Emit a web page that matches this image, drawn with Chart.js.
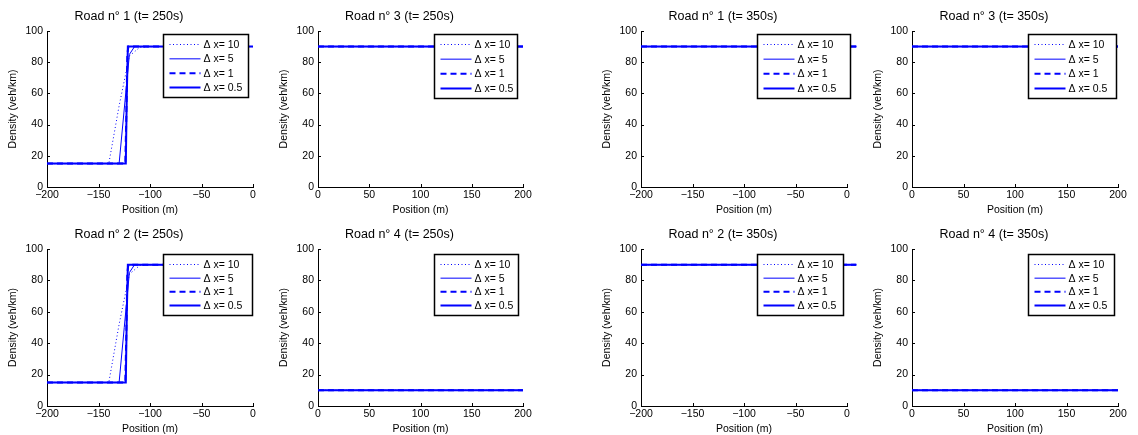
<!DOCTYPE html>
<html>
<head>
<meta charset="utf-8">
<script src="https://cdn.jsdelivr.net/npm/chart.js@4.4.1/dist/chart.umd.min.js"></script>
<style>
  body { margin: 0; background: #fff; }
  #wrap { position: relative; width: 1138px; height: 435px; overflow: hidden; }
  #wrap canvas { position: absolute; }
</style>
</head>
<body>
<div id="wrap"></div>
<script>
// Legend labels (one per mesh size)
const deltaLabels = ['Δ x= 10', 'Δ x= 5', 'Δ x= 1', 'Δ x= 0.5'];

// Road 1, t = 250s  (position m, density veh/km)
const road1T250Dx10 = [[-200, 15], [-140, 15], [-130, 52], [-120, 84], [-110, 89.5], [-100, 90], [0, 90]];
const road1T250Dx5 = [[-200, 15], [-130, 15], [-125, 50], [-120, 85], [-115, 90], [0, 90]];
const road1T250Dx1 = [[-200, 15], [-124, 15], [-123, 45], [-122, 85], [-121, 90], [0, 90]];
const road1T250Dx05 = [[-200, 15], [-123.5, 15], [-122.5, 60], [-121.5, 90], [0, 90]];

// Road 2, t = 250s
const road2T250Dx10 = [[-200, 15], [-140, 15], [-130, 52], [-120, 84], [-110, 89.5], [-100, 90], [0, 90]];
const road2T250Dx5 = [[-200, 15], [-130, 15], [-125, 50], [-120, 85], [-115, 90], [0, 90]];
const road2T250Dx1 = [[-200, 15], [-124, 15], [-123, 45], [-122, 85], [-121, 90], [0, 90]];
const road2T250Dx05 = [[-200, 15], [-123.5, 15], [-122.5, 60], [-121.5, 90], [0, 90]];

// Roads 3 and 4 (and roads 1, 2 at t = 350s) are flat
const road3T250 = [[0, 90], [200, 90]];
const road4T250 = [[0, 10], [200, 10]];
const road1T350 = [[-200, 90], [9, 90]];
const road2T350 = [[-200, 90], [9, 90]];
const road3T350 = [[0, 90], [200, 90]];
const road4T350 = [[0, 10], [200, 10]];

// Line styles for each mesh size
const lineStyles = [
  { borderWidth: 1, borderDash: [1, 2.5] },
  { borderWidth: 1, borderDash: [] },
  { borderWidth: 2, borderDash: [6, 4] },
  { borderWidth: 2, borderDash: [] }
];

const FONT = "'Liberation Sans', Arial, Helvetica, sans-serif";
Chart.defaults.font.family = FONT;
Chart.defaults.color = '#000';

// small tick marks drawn inside the axes (matlab style)
const innerTicks = {
  id: 'innerTicks',
  afterDraw(chart) {
    const { ctx, chartArea, scales } = chart;
    ctx.save();
    ctx.strokeStyle = '#000';
    ctx.lineWidth = 1;
    ctx.beginPath();
    scales.x.ticks.forEach(t => {
      const px = Math.round(scales.x.getPixelForValue(t.value)) + 0.5;
      ctx.moveTo(px, chartArea.bottom);
      ctx.lineTo(px, chartArea.bottom - 3);
    });
    scales.y.ticks.forEach(t => {
      const py = Math.round(scales.y.getPixelForValue(t.value)) + 0.5;
      ctx.moveTo(chartArea.left, py);
      ctx.lineTo(chartArea.left + 3, py);
    });
    ctx.stroke();
    ctx.restore();
  }
};

// boxed legend inside the plot area, drawn over the lines
const boxLegend = {
  id: 'boxLegend',
  afterDatasetsDraw(chart, args, opts) {
    const { ctx, chartArea } = chart;
    const x = Math.round(chartArea.left + opts.offsetX) + 0.5;
    const y = Math.round(chartArea.top + opts.offsetY) + 0.5;
    const w = opts.width, h = opts.height;
    ctx.save();
    ctx.fillStyle = '#fff';
    ctx.fillRect(x, y, w, h);
    ctx.strokeStyle = '#000';
    ctx.lineWidth = 1.5;
    ctx.strokeRect(x, y, w, h);
    const step = (h - 20) / 3;
    chart.data.datasets.forEach((ds, i) => {
      const cy = y + 10 + i * step;
      ctx.beginPath();
      ctx.strokeStyle = ds.borderColor;
      ctx.lineWidth = ds.borderWidth;
      ctx.setLineDash(ds.borderDash);
      ctx.moveTo(x + 6, cy);
      ctx.lineTo(x + 37, cy);
      ctx.stroke();
      ctx.setLineDash([]);
      ctx.fillStyle = '#000';
      ctx.font = '10.5px ' + FONT;
      ctx.textBaseline = 'middle';
      ctx.fillText(ds.label, x + 40, cy + 0.5);
    });
    ctx.restore();
  }
};

const minusFmt = v => (v < 0 ? '\u2212' + Math.abs(v) : String(v));

const panels = [
  { title: 'Road n° 1 (t= 250s)', series: [road1T250Dx10, road1T250Dx5, road1T250Dx1, road1T250Dx05], xMin: -200, xMax: 0, left: 47, top: 31, w: 206, h: 156, legendW: 85, legendH: 63, legendY: 3 },
  { title: 'Road n° 3 (t= 250s)', series: [road3T250, road3T250, road3T250, road3T250], xMin: 0, xMax: 200, left: 318, top: 31, w: 205, h: 156, legendW: 83, legendH: 64, legendY: 3 },
  { title: 'Road n° 1 (t= 350s)', series: [road1T350, road1T350, road1T350, road1T350], xMin: -200, xMax: 0, left: 641, top: 31, w: 206, h: 156, legendW: 93, legendH: 64, legendY: 3, noClip: true },
  { title: 'Road n° 3 (t= 350s)', series: [road3T350, road3T350, road3T350, road3T350], xMin: 0, xMax: 200, left: 912, top: 31, w: 206, h: 156, legendW: 88, legendH: 64, legendY: 3 },
  { title: 'Road n° 2 (t= 250s)', series: [road2T250Dx10, road2T250Dx5, road2T250Dx1, road2T250Dx05], xMin: -200, xMax: 0, left: 47, top: 249, w: 206, h: 157, legendW: 89, legendH: 61, legendY: 5 },
  { title: 'Road n° 4 (t= 250s)', series: [road4T250, road4T250, road4T250, road4T250], xMin: 0, xMax: 200, left: 318, top: 249, w: 205, h: 157, legendW: 84, legendH: 61, legendY: 5 },
  { title: 'Road n° 2 (t= 350s)', series: [road2T350, road2T350, road2T350, road2T350], xMin: -200, xMax: 0, left: 641, top: 249, w: 206, h: 157, legendW: 86, legendH: 61, legendY: 5, noClip: true },
  { title: 'Road n° 4 (t= 350s)', series: [road4T350, road4T350, road4T350, road4T350], xMin: 0, xMax: 200, left: 912, top: 249, w: 206, h: 157, legendW: 86, legendH: 61, legendY: 5 }
];

const Y_AXIS_W = 42, X_AXIS_H = 30, TITLE_H = 24, RIGHT_PAD = 15;

panels.forEach(p => {
  const canvas = document.createElement('canvas');
  const cw = Y_AXIS_W + p.w + RIGHT_PAD;
  const chH = TITLE_H + p.h + X_AXIS_H;
  canvas.width = cw;
  canvas.height = chH;
  canvas.style.left = (p.left - Y_AXIS_W) + 'px';
  canvas.style.top = (p.top - TITLE_H) + 'px';
  canvas.style.width = cw + 'px';
  canvas.style.height = chH + 'px';
  document.getElementById('wrap').appendChild(canvas);

  new Chart(canvas.getContext('2d'), {
    type: 'line',
    data: {
      datasets: p.series.map((pts, i) => ({
        label: deltaLabels[i],
        data: pts.map(([x, y]) => ({ x, y })),
        borderColor: '#0000ff',
        borderWidth: lineStyles[i].borderWidth,
        borderDash: lineStyles[i].borderDash,
        pointRadius: 0,
        tension: 0,
        fill: false,
        order: 3 - i,
        clip: p.noClip ? false : undefined
      }))
    },
    options: {
      responsive: false,
      devicePixelRatio: 1,
      animation: false,
      layout: { padding: { left: 0, right: RIGHT_PAD, top: 0, bottom: 0 } },
      plugins: {
        legend: { display: false },
        tooltip: { enabled: false },
        title: {
          display: true,
          text: p.title,
          color: '#000',
          font: { size: 12.5, weight: 'normal', lineHeight: 1 },
          padding: { top: 3.5, bottom: 8 }
        },
        boxLegend: { offsetX: 116, offsetY: p.legendY, width: p.legendW, height: p.legendH }
      },
      scales: {
        x: {
          type: 'linear',
          min: p.xMin,
          max: p.xMax,
          ticks: { stepSize: 50, font: { size: 10.5 }, color: '#000', padding: 2, maxRotation: 0, callback: minusFmt },
          grid: { display: false, drawTicks: false },
          border: { display: true, color: '#000', width: 1 },
          title: { display: true, text: 'Position (m)', color: '#000', font: { size: 10.5, lineHeight: 1 }, padding: { top: 0, bottom: 2 } },
          afterFit(scale) { scale.height = X_AXIS_H; }
        },
        y: {
          min: 0,
          max: 100,
          ticks: { stepSize: 20, font: { size: 10.5 }, color: '#000', padding: 4 },
          grid: { display: false, drawTicks: false },
          border: { display: true, color: '#000', width: 1 },
          title: { display: true, text: 'Density (veh/km)', color: '#000', font: { size: 10.5, lineHeight: 1 }, padding: { top: 3, bottom: 0 } },
          afterFit(scale) { scale.width = Y_AXIS_W; }
        }
      }
    },
    plugins: [boxLegend, innerTicks]
  });
});
</script>
</body>
</html>
